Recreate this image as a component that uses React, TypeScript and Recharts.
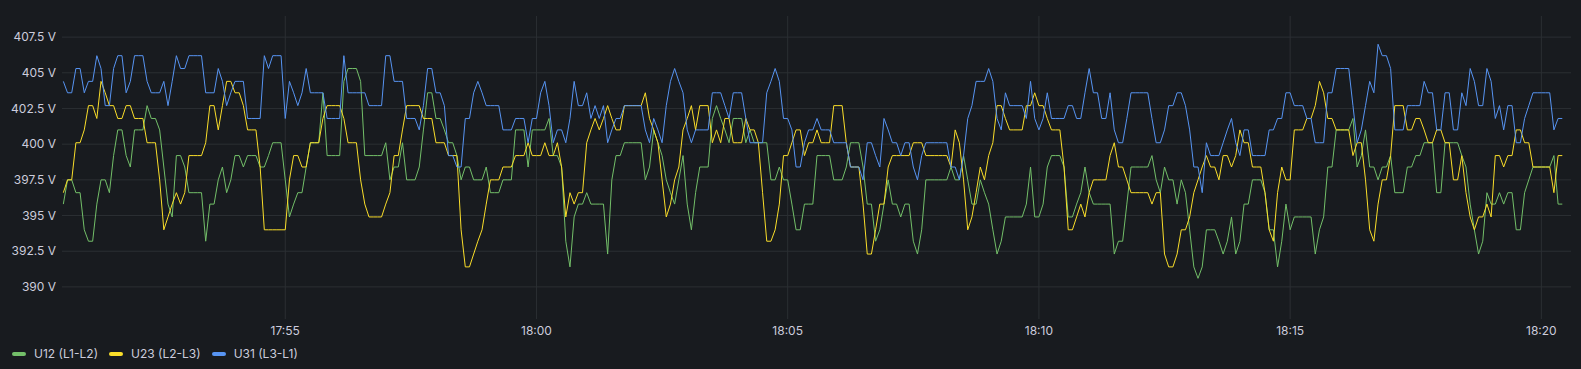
import { CartesianGrid, Line, LineChart, XAxis, YAxis } from "recharts";

// Samples every 5 s, first one at 17:50:35. Time is seconds after 17:50:00.
const START_SEC = 35;
const STEP_SEC = 5;

const U12 = [
  395.8, 397.5, 397.5, 396.6, 396.6, 394.0, 393.2, 393.2, 395.8, 397.5,
  397.5, 396.6, 399.2, 401.0, 401.0, 399.2, 398.4, 401.0, 401.0, 401.0,
  402.7, 401.8, 401.8, 401.0, 398.4, 395.8, 394.9, 399.2, 399.2, 398.4,
  396.6, 396.6, 396.6, 396.6, 393.2, 395.8, 395.8, 397.5, 398.4, 396.6,
  397.5, 399.2, 399.2, 398.4, 399.2, 399.2, 399.2, 398.4, 398.4, 399.2,
  400.1, 400.1, 400.1, 397.5, 394.9, 395.8, 396.6, 396.6, 398.4, 400.1,
  400.1, 400.1, 403.6, 399.2, 399.2, 399.2, 399.2, 404.4, 405.3, 405.3,
  405.3, 404.4, 399.2, 399.2, 399.2, 399.2, 399.2, 400.1, 397.5, 398.4,
  398.4, 400.1, 397.5, 397.5, 397.5, 398.4, 401.0, 403.6, 403.6, 401.8,
  401.8, 401.0, 400.1, 400.1, 399.2, 397.5, 398.4, 398.4, 397.5, 397.5,
  397.5, 398.4, 396.6, 396.6, 396.6, 397.5, 397.5, 397.5, 401.0, 401.0,
  401.0, 398.4, 401.0, 401.0, 401.0, 401.0, 401.8, 399.2, 399.2, 398.4,
  393.2, 391.4, 394.9, 395.8, 395.8, 396.6, 395.8, 395.8, 395.8, 395.8,
  392.3, 397.5, 399.2, 399.2, 400.1, 400.1, 400.1, 400.1, 400.1, 397.5,
  398.4, 401.0, 400.1, 399.2, 397.5, 396.6, 395.8, 397.5, 399.2, 395.8,
  394.0, 396.6, 398.4, 398.4, 398.4, 401.8, 402.7, 401.8, 401.0, 400.1,
  401.8, 401.8, 401.8, 400.1, 401.0, 400.1, 400.1, 400.1, 400.1, 397.5,
  397.5, 398.4, 397.5, 397.5, 395.8, 394.0, 394.0, 395.8, 395.8, 395.8,
  399.2, 399.2, 399.2, 399.2, 397.5, 397.5, 397.5, 398.4, 400.1, 400.1,
  400.1, 398.4, 395.8, 395.8, 393.2, 394.0, 395.8, 397.5, 395.8, 395.8,
  394.9, 395.8, 395.8, 393.2, 392.3, 394.0, 397.5, 397.5, 397.5, 397.5,
  397.5, 397.5, 398.4, 397.5, 397.5, 399.2, 397.5, 395.8, 395.8, 397.5,
  396.6, 395.8, 394.0, 392.3, 393.2, 394.9, 394.9, 394.9, 394.9, 394.9,
  395.8, 398.4, 394.9, 394.9, 395.8, 398.4, 399.2, 399.2, 399.2, 398.4,
  394.9, 394.9, 395.8, 396.6, 398.4, 396.6, 395.8, 395.8, 395.8, 395.8,
  395.8, 392.3, 393.2, 393.2, 395.8, 398.4, 398.4, 398.4, 398.4, 398.4,
  399.2, 397.5, 396.6, 398.4, 397.5, 397.5, 395.8, 397.5, 396.6, 394.0,
  391.4, 390.6, 391.4, 394.0, 394.0, 394.0, 393.2, 392.3, 393.2, 394.9,
  392.3, 393.2, 395.8, 395.8, 397.5, 397.5, 397.5, 396.6, 394.0, 394.0,
  391.4, 393.2, 395.8, 394.0, 394.9, 394.9, 394.9, 394.9, 394.9, 392.3,
  394.0, 394.9, 398.4, 398.4, 401.0, 401.0, 401.0, 401.0, 401.8, 398.4,
  399.2, 401.0, 398.4, 398.4, 397.5, 398.4, 398.4, 399.2, 396.6, 396.6,
  396.6, 398.4, 398.4, 399.2, 399.2, 400.1, 400.1, 400.1, 396.6, 396.6,
  400.1, 400.1, 400.1, 400.1, 399.2, 398.4, 395.8, 394.0, 392.3, 393.2,
  396.6, 395.8, 395.8, 396.6, 395.8, 396.6, 396.6, 394.0, 394.0, 396.6,
  397.5, 398.4, 398.4, 398.4, 398.4, 398.4, 399.2, 395.8, 395.8,
];

const U23 = [
  396.6, 397.5, 397.5, 400.1, 400.1, 401.0, 402.7, 402.7, 401.8, 404.4,
  403.6, 402.7, 402.7, 401.8, 401.8, 402.7, 402.7, 401.8, 401.8, 401.8,
  400.1, 400.1, 400.1, 397.5, 394.0, 394.9, 395.8, 396.6, 395.8, 396.6,
  399.2, 399.2, 399.2, 399.2, 400.1, 402.7, 402.7, 401.0, 402.7, 404.4,
  404.4, 403.6, 403.6, 402.7, 401.0, 401.0, 401.0, 398.4, 394.0, 394.0,
  394.0, 394.0, 394.0, 394.0, 397.5, 399.2, 399.2, 398.4, 398.4, 400.1,
  400.1, 400.1, 401.8, 402.7, 402.7, 402.7, 402.7, 401.8, 400.1, 400.1,
  400.1, 397.5, 395.8, 394.9, 394.9, 394.9, 394.9, 395.8, 396.6, 399.2,
  399.2, 401.0, 402.7, 402.7, 402.7, 402.7, 401.8, 401.8, 401.8, 400.1,
  400.1, 400.1, 399.2, 399.2, 399.2, 394.0, 391.4, 391.4, 392.3, 393.2,
  394.0, 395.8, 397.5, 397.5, 397.5, 398.4, 398.4, 398.4, 399.2, 399.2,
  399.2, 400.1, 399.2, 399.2, 399.2, 400.1, 399.2, 399.2, 400.1, 398.4,
  394.9, 396.6, 395.8, 396.6, 396.6, 400.1, 401.0, 401.8, 401.0, 401.8,
  402.7, 401.8, 401.0, 401.0, 402.7, 402.7, 402.7, 402.7, 402.7, 403.6,
  401.8, 401.0, 400.1, 397.5, 394.9, 395.8, 397.5, 398.4, 401.0, 401.8,
  402.7, 401.0, 402.7, 402.7, 402.7, 400.1, 401.0, 400.1, 401.8, 401.8,
  400.1, 400.1, 400.1, 401.8, 401.0, 401.0, 400.1, 396.6, 393.2, 393.2,
  394.0, 395.8, 399.2, 399.2, 400.1, 401.0, 401.0, 399.2, 400.1, 400.1,
  401.0, 400.1, 400.1, 400.1, 402.7, 402.7, 402.7, 400.1, 398.4, 398.4,
  398.4, 395.8, 392.3, 392.3, 394.0, 395.8, 395.8, 398.4, 399.2, 399.2,
  399.2, 399.2, 399.2, 400.1, 400.1, 400.1, 399.2, 399.2, 399.2, 399.2,
  399.2, 399.2, 398.4, 401.0, 400.1, 397.5, 394.0, 394.9, 396.6, 398.4,
  397.5, 399.2, 400.1, 402.7, 402.7, 401.8, 401.0, 401.0, 401.0, 401.0,
  402.7, 402.7, 403.6, 402.7, 402.7, 401.8, 401.0, 401.0, 401.0, 398.4,
  394.0, 394.0, 394.9, 395.8, 394.9, 396.6, 397.5, 397.5, 397.5, 397.5,
  399.2, 400.1, 398.4, 398.4, 397.5, 396.6, 396.6, 396.6, 396.6, 396.6,
  395.8, 396.6, 396.6, 392.3, 391.4, 391.4, 392.3, 394.0, 394.0, 394.9,
  396.6, 397.5, 398.4, 399.2, 398.4, 398.4, 397.5, 399.2, 399.2, 398.4,
  399.2, 401.0, 400.1, 400.1, 398.4, 398.4, 398.4, 396.6, 394.0, 393.2,
  396.6, 398.4, 397.5, 397.5, 401.0, 401.0, 401.0, 401.8, 401.8, 402.7,
  404.4, 403.6, 401.8, 401.8, 401.0, 401.0, 401.0, 401.0, 399.2, 400.1,
  400.1, 397.5, 394.0, 393.2, 395.8, 397.5, 397.5, 399.2, 402.7, 402.7,
  402.7, 401.0, 401.0, 401.8, 401.8, 401.0, 400.1, 400.1, 401.0, 401.0,
  400.1, 400.1, 397.5, 397.5, 399.2, 396.6, 394.9, 394.0, 394.9, 394.9,
  395.8, 394.9, 399.2, 399.2, 398.4, 399.2, 399.2, 401.0, 401.0, 400.1,
  400.1, 398.4, 398.4, 398.4, 398.4, 398.4, 396.6, 399.2, 399.2,
];

const U31 = [
  404.4, 403.6, 403.6, 405.3, 405.3, 403.6, 404.4, 404.4, 406.2, 405.3,
  402.7, 402.7, 405.3, 406.2, 406.2, 403.6, 404.4, 406.2, 406.2, 406.2,
  404.4, 403.6, 403.6, 403.6, 404.4, 402.7, 404.4, 406.2, 405.3, 405.3,
  406.2, 406.2, 406.2, 406.2, 403.6, 403.6, 403.6, 405.3, 404.4, 402.7,
  403.6, 404.4, 404.4, 404.4, 401.8, 401.8, 401.8, 401.8, 406.2, 405.3,
  406.2, 406.2, 406.2, 401.8, 404.4, 403.6, 402.7, 403.6, 405.3, 403.6,
  403.6, 403.6, 403.6, 401.8, 401.8, 401.8, 401.8, 406.2, 403.6, 403.6,
  403.6, 403.6, 403.6, 402.7, 402.7, 402.7, 402.7, 406.2, 406.2, 404.4,
  404.4, 404.4, 401.8, 401.8, 401.8, 401.0, 402.7, 405.3, 405.3, 403.6,
  403.6, 402.7, 399.2, 399.2, 398.4, 398.4, 401.8, 401.8, 403.6, 404.4,
  403.6, 402.7, 402.7, 402.7, 402.7, 401.0, 401.0, 401.0, 401.8, 401.8,
  401.8, 400.1, 401.8, 401.8, 403.6, 404.4, 402.7, 400.1, 401.0, 401.0,
  400.1, 401.8, 404.4, 402.7, 402.7, 403.6, 401.8, 402.7, 401.8, 402.7,
  400.1, 401.0, 401.8, 401.8, 402.7, 402.7, 402.7, 402.7, 402.7, 401.0,
  400.1, 401.8, 401.0, 400.1, 402.7, 404.4, 405.3, 404.4, 403.6, 401.0,
  400.1, 401.0, 401.0, 401.0, 401.0, 403.6, 403.6, 403.6, 402.7, 401.8,
  403.6, 403.6, 403.6, 401.8, 400.1, 400.1, 400.1, 400.1, 403.6, 404.4,
  405.3, 404.4, 401.8, 401.8, 401.0, 398.4, 398.4, 400.1, 401.0, 401.0,
  401.8, 401.0, 401.0, 401.0, 400.1, 400.1, 400.1, 400.1, 398.4, 398.4,
  398.4, 397.5, 400.1, 400.1, 399.2, 398.4, 401.8, 401.0, 400.1, 400.1,
  399.2, 400.1, 400.1, 398.4, 397.5, 399.2, 400.1, 400.1, 400.1, 400.1,
  400.1, 400.1, 398.4, 398.4, 397.5, 399.2, 401.8, 402.7, 404.4, 404.4,
  404.4, 405.3, 404.4, 401.8, 401.0, 403.6, 402.7, 402.7, 402.7, 402.7,
  401.8, 404.4, 401.8, 401.0, 401.8, 403.6, 401.8, 401.8, 401.8, 401.8,
  402.7, 402.7, 401.8, 401.8, 403.6, 405.3, 403.6, 403.6, 401.8, 401.8,
  403.6, 401.0, 400.1, 400.1, 401.8, 403.6, 403.6, 403.6, 403.6, 403.6,
  401.8, 400.1, 400.1, 401.0, 402.7, 402.7, 403.6, 403.6, 402.7, 401.0,
  398.4, 398.4, 396.6, 400.1, 399.2, 399.2, 399.2, 400.1, 401.0, 401.8,
  400.1, 399.2, 401.0, 401.0, 399.2, 399.2, 399.2, 399.2, 401.0, 401.0,
  401.8, 401.8, 403.6, 403.6, 402.7, 402.7, 402.7, 401.8, 401.8, 400.1,
  400.1, 400.1, 403.6, 403.6, 405.3, 405.3, 405.3, 405.3, 402.7, 400.1,
  401.0, 402.7, 404.4, 403.6, 407.0, 406.2, 406.2, 405.3, 401.0, 401.0,
  401.0, 402.7, 402.7, 402.7, 402.7, 404.4, 403.6, 403.6, 401.0, 401.0,
  403.6, 403.6, 401.0, 401.0, 403.6, 402.7, 405.3, 404.4, 402.7, 402.7,
  405.3, 404.4, 401.8, 402.7, 401.0, 402.7, 402.7, 400.1, 400.1, 401.8,
  402.7, 403.6, 403.6, 403.6, 403.6, 403.6, 401.0, 401.8, 401.8,
];

const X_TICKS = [300, 600, 900, 1200, 1500, 1800];
const X_TICK_LABELS = ["17:55", "18:00", "18:05", "18:10", "18:15", "18:20"];
const Y_TICKS = [390, 392.5, 395, 397.5, 400, 402.5, 405, 407.5];

const SERIES = [
  { key: "u12", name: "U12 (L1-L2)", color: "#73bf69", values: U12 },
  { key: "u23", name: "U23 (L2-L3)", color: "#fade2a", values: U23 },
  { key: "u31", name: "U31 (L3-L1)", color: "#5794f2", values: U31 },
];

const data = U12.map((_, i) => ({
  t: START_SEC + i * STEP_SEC,
  u12: U12[i],
  u23: U23[i],
  u31: U31[i],
}));

const TEXT = "#ccccdc";
const GRID = "rgb(43, 47, 51)";
const FONT = "Inter, 'Noto Sans', sans-serif";

export default function App() {
  return (
    <div
      style={{
        position: "absolute",
        left: 0,
        top: 0,
        width: 1581,
        height: 369,
        background: "#181b1f",
        fontFamily: FONT,
      }}
    >
      <LineChart
        width={1581}
        height={369}
        data={data}
        margin={{ top: 16, right: 10, bottom: 28, left: 0 }}
      >
        {/* grid only at the ticks, no frame round the plot */}
        <CartesianGrid stroke={GRID} syncWithTicks />
        <XAxis
          dataKey="t"
          type="number"
          domain={[33.4, 1835.4]}
          ticks={X_TICKS}
          interval={0}
          allowDataOverflow
          height={22}
          axisLine={false}
          tickLine={false}
          tickSize={0}
          tickMargin={7}
          tick={{ fill: TEXT, fontSize: 12, fontFamily: FONT }}
          tickFormatter={(v) => X_TICK_LABELS[X_TICKS.indexOf(v)] ?? ""}
        />
        <YAxis
          type="number"
          domain={[387.75, 408.98]}
          ticks={Y_TICKS}
          interval={0}
          allowDataOverflow
          width={62}
          axisLine={false}
          tickLine={false}
          tickSize={0}
          tickMargin={6}
          tick={{ fill: TEXT, fontSize: 12, fontFamily: FONT }}
          tickFormatter={(v) => `${v} V`}
        />
        {SERIES.map((s) => (
          <Line
            key={s.key}
            dataKey={s.key}
            name={s.name}
            type="linear"
            stroke={s.color}
            strokeWidth={1}
            dot={false}
            activeDot={false}
            isAnimationActive={false}
          />
        ))}
      </LineChart>
      <div
        style={{
          position: "absolute",
          left: 12,
          top: 345,
          display: "flex",
          gap: 11,
          fontSize: 12,
          color: TEXT,
          lineHeight: "18px",
        }}
      >
        {SERIES.map((s) => (
          <div key={s.key} style={{ display: "flex", alignItems: "center" }}>
            <span
              style={{
                display: "inline-block",
                width: 14,
                height: 4,
                borderRadius: 2,
                background: s.color,
                marginRight: 8,
              }}
            />
            {s.name}
          </div>
        ))}
      </div>
    </div>
  );
}
